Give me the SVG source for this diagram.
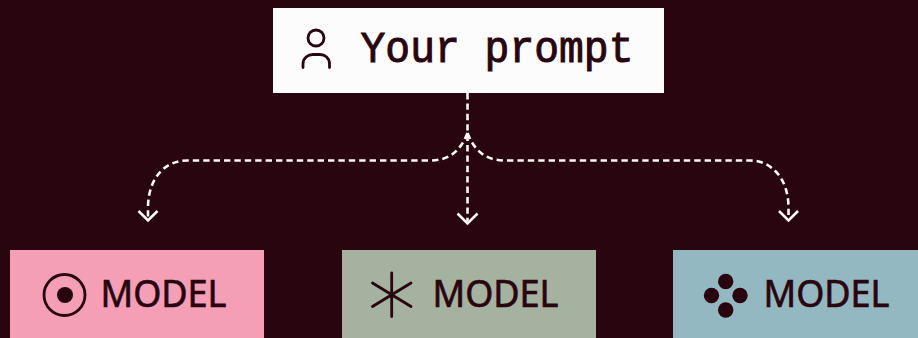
<svg xmlns="http://www.w3.org/2000/svg" width="918" height="338" viewBox="0 0 918 338">
<style>
.ink{fill:none;stroke:#29050f;stroke-width:2.8;stroke-linecap:round}
.dot{fill:#29050f}
.model{font-family:"Noto Sans",sans-serif;font-size:39px;fill:#29050f;stroke:#29050f;stroke-width:.7}
.prompt{font-family:"Liberation Mono",monospace;font-size:44px;fill:#29050f;stroke:#29050f;stroke-width:1}
.dash{fill:none;stroke:#fbf8f8;stroke-width:2.6;stroke-dasharray:6.400 4}
.head{fill:none;stroke:#fbf8f8;stroke-width:2.6}
</style>
<rect width="918" height="338" fill="#29050f"/>
<g id="connectors">
<path class="dash" d="M467.5 93V222"/>
<path class="dash" d="M467.5 133C461 150 450 160.500 430 160.500H187C165 160.500 148 178 148 208V219"/>
<path class="dash" d="M467.500 133C474 150 485 160.500 505 160.500H750C771 160.500 788.500 178 788.500 208V219"/>
<path class="head" d="M138.500 211L148 220.500L157.500 211"/>
<path class="head" d="M457.500 213.500L467.500 223.500L477.500 213.500"/>
<path class="head" d="M779 211L788.500 220.500L798 211"/>
</g>
<g id="prompt">
<rect x="273" y="8" width="391" height="85" fill="#fcfcfc"/>
<circle class="ink" cx="316" cy="38" r="8"/>
<path class="ink" d="M303 67.500V64C303 58 308 54.500 313 54.500H320C325 54.500 329.500 58 329.500 64V67.500"/>
<text class="prompt" x="360.500" y="62" textLength="273" lengthAdjust="spacingAndGlyphs">Your prompt</text>
</g>
<g id="model-1">
<rect x="10" y="250" width="254" height="88" fill="#f49fb6"/>
<circle class="ink" cx="64.500" cy="295" r="20.500"/>
<circle class="dot" cx="65" cy="295" r="8"/>
<text class="model" x="100.500" y="307" textLength="126" lengthAdjust="spacingAndGlyphs">MODEL</text>
</g>
<g id="model-2">
<rect x="342" y="250" width="254" height="88" fill="#a6b2a0"/>
<path class="ink" d="M391.700 273V316.500M372.500 283L411 306.500M411 283L372.500 306.500"/>
<text class="model" x="432.500" y="307" textLength="126" lengthAdjust="spacingAndGlyphs">MODEL</text>
</g>
<g id="model-3">
<rect x="673" y="250" width="254" height="88" fill="#94b8c2"/>
<circle class="dot" cx="725.700" cy="281.500" r="7.700"/>
<circle class="dot" cx="711.500" cy="295.500" r="7.700"/>
<circle class="dot" cx="740" cy="295.500" r="7.700"/>
<circle class="dot" cx="725.700" cy="310" r="7.700"/>
<text class="model" x="763.500" y="307" textLength="126" lengthAdjust="spacingAndGlyphs">MODEL</text>
</g>
</svg>
